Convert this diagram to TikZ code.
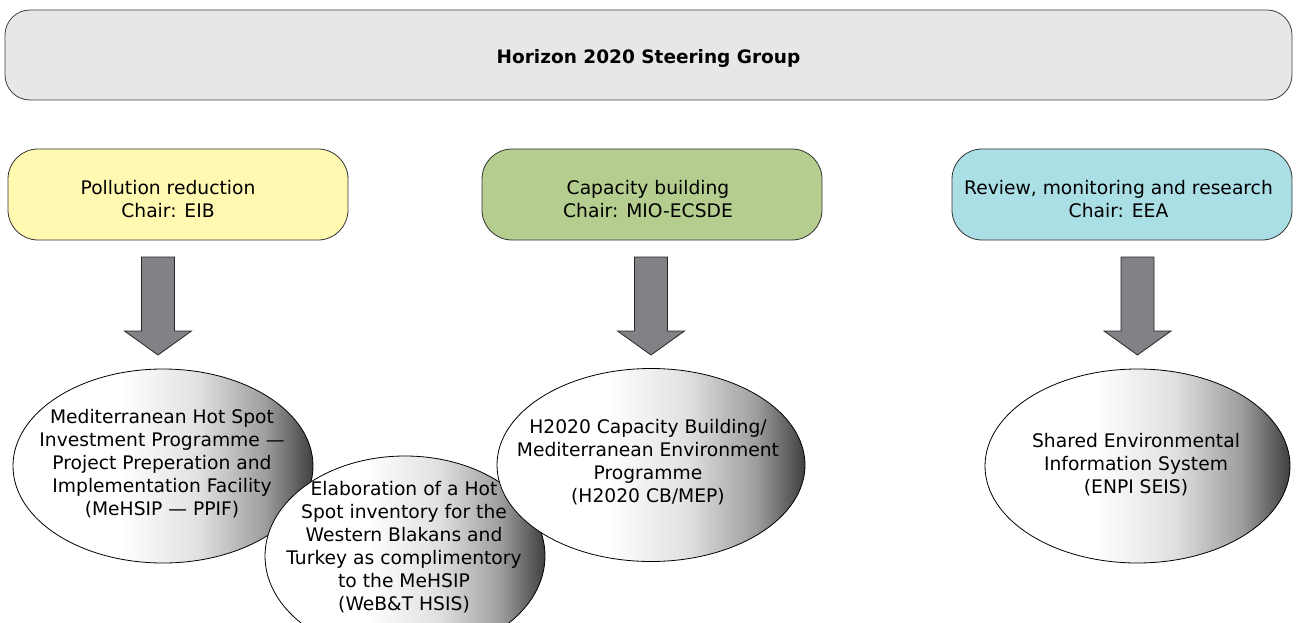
\documentclass[tikz,border=0pt]{standalone}
\usepackage{fontspec}
\setmainfont{DejaVu Sans}
\usetikzlibrary{shapes.geometric}
\definecolor{topgray}{HTML}{E6E7E8}
\definecolor{boxyellow}{HTML}{FFF9B1}
\definecolor{boxgreen}{HTML}{B5CD8F}
\definecolor{boxcyan}{HTML}{ABDFE6}
\definecolor{arrowgray}{HTML}{808285}
\pgfdeclarehorizontalshading{ellshade}{100bp}{color(0bp)=(white); color(25bp)=(white); color(43bp)=(white); color(56bp)=(black!12); color(67bp)=(black!38); color(75bp)=(black!75); color(100bp)=(black!75)}
\tikzset{
  topbox/.style={draw=black!75, line width=0.8pt, fill=topgray, rounded corners=25pt,
    minimum width=1287pt, minimum height=90pt, inner sep=0pt},
  groupbox/.style={draw=black!80, line width=0.8pt, rounded corners=30pt,
    minimum width=340pt, minimum height=91pt, inner sep=0pt},
  prog/.style={ellipse, draw=black, line width=0.8pt, shading=ellshade, inner sep=0pt},
  etext/.style={align=center, inner sep=0pt},
  blockarrow/.pic={\filldraw[fill=arrowgray, draw=black!85, line width=0.8pt]
    (-16.5,0) -- (16.5,0) -- (16.5,74) -- (33.5,74) -- (0,98) -- (-33.5,74) -- (-16.5,74) -- cycle;}
}
\begin{document}
\begin{tikzpicture}[x=1pt, y=-1pt, font=\fontsize{18.7}{23}\selectfont]
\useasboundingbox (0,0) rectangle (1299,623);

\node[topbox] (steer) at (648.5,55) {};
\node[etext, font=\fontsize{18.5}{22}\selectfont\bfseries] (steertext) at (648.5,58) {Horizon 2020 Steering Group};

\node[groupbox, fill=boxyellow] (pol) at (178,194.5) {};
\node[etext] (poltext) at (168,199) {Pollution reduction\\Chair: EIB};
\node[groupbox, fill=boxgreen] (cap) at (652,194.5) {};
\node[etext] (captext) at (648,199) {Capacity building\\Chair: MIO-ECSDE};
\node[groupbox, fill=boxcyan] (rev) at (1122,194.5) {};
\node[etext] (revtext) at (1118.5,199) {Review, monitoring and research\\Chair: EEA};

\coordinate (a1) at (158,257);
\coordinate (a2) at (651,257);
\coordinate (a3) at (1137.5,257);
\pic at (a1) {blockarrow};
\pic at (a2) {blockarrow};
\pic at (a3) {blockarrow};

\node[prog, minimum width=300pt, minimum height=194pt] (e1) at (163,466) {};
\node[etext] (t1) at (162,464) {Mediterranean Hot Spot\\Investment Programme —\\Project Preperation and\\Implementation Facility\\(MeHSIP — PPIF)};

\node[prog, minimum width=280pt, minimum height=200pt] (e2) at (405,556) {};
\node[etext] (t2) at (404,547) {Elaboration of a Hot\\Spot inventory for the\\Western Blakans and\\Turkey as complimentory\\to the MeHSIP\\(WeB\&T HSIS)};

\node[prog, minimum width=308pt, minimum height=193pt] (e3) at (651,465) {};
\node[etext] (t3) at (648,462) {H2020 Capacity Building/\\Mediterranean Environment\\Programme\\(H2020 CB/MEP)};

\node[prog, minimum width=305pt, minimum height=194pt] (e4) at (1137.5,466) {};
\node[etext] (t4) at (1136,465) {Shared Environmental\\Information System\\(ENPI SEIS)};
\end{tikzpicture}
\end{document}
